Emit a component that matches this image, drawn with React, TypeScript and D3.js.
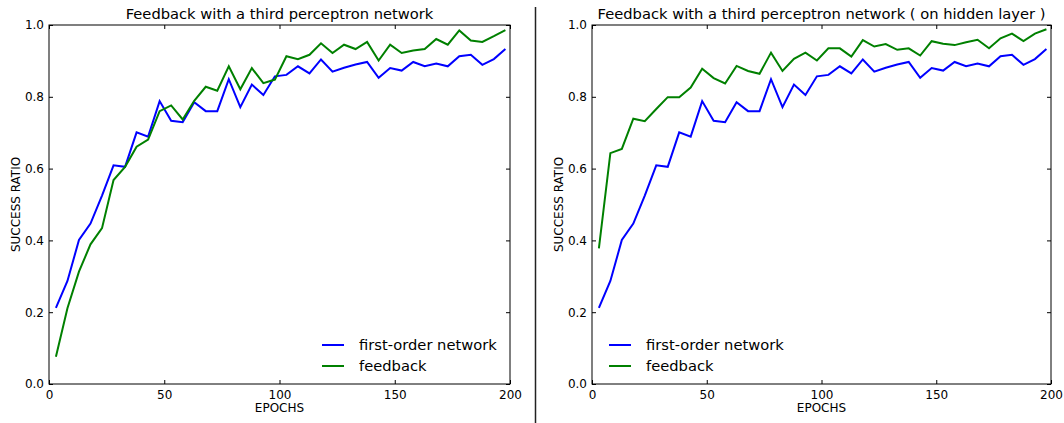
import React, { useEffect, useRef } from 'react';
import { select, axisBottom, axisTop, axisLeft, axisRight, scaleLinear, line, format } from 'd3';

const epochs = [3, 8, 13, 18, 23, 28, 33, 38, 43, 48, 53, 58, 63, 68, 73, 78, 83, 88, 93, 98,
  103, 108, 113, 118, 123, 128, 133, 138, 143, 148, 153, 158, 163, 168, 173, 178, 183, 188, 193, 198];

const firstOrder = [0.212, 0.287, 0.401, 0.447, 0.525, 0.609, 0.605, 0.701, 0.689, 0.788,
  0.733, 0.729, 0.785, 0.760, 0.760, 0.849, 0.771, 0.834, 0.805, 0.857,
  0.861, 0.885, 0.865, 0.904, 0.870, 0.881, 0.890, 0.897, 0.853, 0.880,
  0.873, 0.897, 0.885, 0.893, 0.885, 0.913, 0.917, 0.889, 0.905, 0.933];

const feedbackOutput = [0.076, 0.211, 0.313, 0.389, 0.434, 0.568, 0.605, 0.661, 0.681, 0.760,
  0.776, 0.737, 0.789, 0.828, 0.817, 0.885, 0.821, 0.880, 0.838, 0.848,
  0.913, 0.905, 0.917, 0.949, 0.922, 0.945, 0.933, 0.953, 0.901, 0.945,
  0.922, 0.929, 0.933, 0.961, 0.945, 0.985, 0.957, 0.953, 0.969, 0.986];

const feedbackHidden = [0.378, 0.643, 0.655, 0.739, 0.732, 0.766, 0.799, 0.799, 0.826, 0.878,
  0.852, 0.837, 0.886, 0.872, 0.864, 0.923, 0.872, 0.906, 0.923, 0.901,
  0.935, 0.935, 0.912, 0.958, 0.940, 0.947, 0.931, 0.935, 0.915, 0.955,
  0.948, 0.944, 0.952, 0.959, 0.935, 0.963, 0.976, 0.955, 0.976, 0.988];

const xTicks = [0, 50, 100, 150, 200];
const yTicks = [0.0, 0.2, 0.4, 0.6, 0.8, 1.0];
const seriesNames = ['first-order network', 'feedback'];
const colors = ['#0000ff', '#008000'];

const FONT = '"DejaVu Sans", sans-serif';
const TOP = 25;
const BOTTOM = 384;

const Panel = ({ left, right, title, feedback, legendLeft }) => {
  const gRef = useRef();

  const x = scaleLinear().domain([0, 200]).range([left, right]);
  const y = scaleLinear().domain([0, 1]).range([BOTTOM, TOP]);

  useEffect(() => {
    const g = select(gRef.current);
    const style = (sel) => {
      sel.select('.domain').remove();
      sel.selectAll('line').attr('stroke', '#000').attr('stroke-width', 1);
      sel.selectAll('text').attr('font-family', FONT).attr('font-size', 12).attr('fill', '#000');
    };
    g.select('.x-bottom')
      .attr('transform', `translate(0,${BOTTOM})`)
      .call(axisBottom(x).tickValues(xTicks).tickSize(-4).tickPadding(6))
      .call(style);
    g.select('.x-top')
      .attr('transform', `translate(0,${TOP})`)
      .call(axisTop(x).tickValues(xTicks).tickSize(-4).tickFormat(() => ''))
      .call(style);
    g.select('.y-left')
      .attr('transform', `translate(${left},0)`)
      .call(axisLeft(y).tickValues(yTicks).tickSize(-4).tickPadding(5).tickFormat(format('.1f')))
      .call(style);
    g.select('.y-right')
      .attr('transform', `translate(${right},0)`)
      .call(axisRight(y).tickValues(yTicks).tickSize(-4).tickFormat(() => ''))
      .call(style);
  }, [left, right]);

  const path = line()
    .x((d, i) => x(epochs[i]))
    .y((d) => y(d));

  const lx = legendLeft ? left + 17 : right - 188;

  return (
    <g ref={gRef}>
      <text x={(left + right) / 2} y={19} textAnchor="middle" fontFamily={FONT} fontSize={14.7}>{title}</text>
      <path d={path(firstOrder)} fill="none" stroke={colors[0]} strokeWidth={2} />
      <path d={path(feedback)} fill="none" stroke={colors[1]} strokeWidth={2} />
      <rect x={left} y={TOP} width={right - left} height={BOTTOM - TOP} fill="none" stroke="#000" strokeWidth={1} />
      <g className="x-bottom"></g>
      <g className="x-top"></g>
      <g className="y-left"></g>
      <g className="y-right"></g>
      <text x={(left + right) / 2} y={412} textAnchor="middle" fontFamily={FONT} fontSize={12}>EPOCHS</text>
      <text transform={`translate(${left - 29},${(TOP + BOTTOM) / 2}) rotate(-90)`} textAnchor="middle" fontFamily={FONT} fontSize={12}>SUCCESS RATIO</text>
      {seriesNames.map((name, i) => (
        <g key={name}>
          <line x1={lx} x2={lx + 22} y1={345 + i * 21} y2={345 + i * 21} stroke={colors[i]} strokeWidth={2} />
          <text x={lx + 37} y={350 + i * 21} fontFamily={FONT} fontSize={14.7}>{name}</text>
        </g>
      ))}
    </g>
  );
};

export default function App() {
  return (
    <svg width={1064} height={423} style={{ position: 'absolute', left: 0, top: 0, background: '#fff' }}>
      <rect width={1064} height={423} fill="#fff" />
      <Panel left={49} right={510} title="Feedback with a third perceptron network" feedback={feedbackOutput} legendLeft={false} />
      <Panel left={592} right={1051} title="Feedback with a third perceptron network ( on hidden layer )" feedback={feedbackHidden} legendLeft={true} />
      <line x1={535.5} x2={535.5} y1={7} y2={423} stroke="#222" strokeWidth={1.5} />
    </svg>
  );
}
